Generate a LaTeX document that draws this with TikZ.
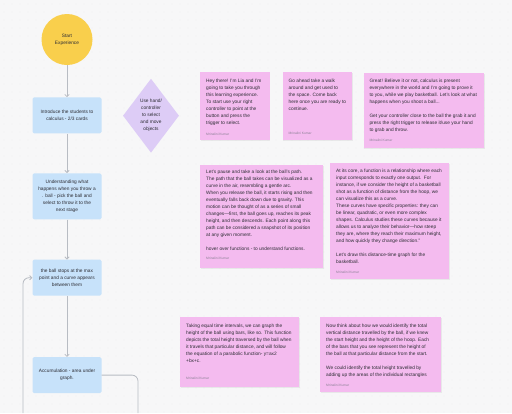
\documentclass[tikz,border=0pt]{standalone}
\usepackage{fontspec}
\setmainfont{Liberation Sans}
\usetikzlibrary{positioning,shapes.geometric,arrows.meta,shadows}

\definecolor{boardbg}{RGB}{247,247,248}
\definecolor{boarddot}{RGB}{226,226,230}
\definecolor{startyellow}{RGB}{249,207,76}
\definecolor{stepblue}{RGB}{199,226,250}
\definecolor{choicepurple}{RGB}{221,204,246}
\definecolor{notepink}{RGB}{244,187,239}
\definecolor{linkgray}{RGB}{184,188,195}
\definecolor{inkgray}{RGB}{45,45,52}
\definecolor{namegray}{RGB}{140,130,150}

\begin{document}
\begin{tikzpicture}[
    x=1pt, y=-1pt,
    every node/.style={font=\fontsize{4.8}{7}\selectfont, text=inkgray},
    startnode/.style={circle, fill=startyellow, minimum size=51pt, inner sep=0pt, align=center},
    flowbox/.style={rectangle, rounded corners=1.5pt, fill=stepblue, minimum width=69pt, minimum height=36pt, inner sep=0pt, align=center},
    choice/.style={diamond, fill=choicepurple, minimum width=56pt, minimum height=74pt, inner sep=0pt},
    note/.style={rectangle, fill=notepink, anchor=north west, inner sep=0pt,
        drop shadow={opacity=0.12, shadow xshift=0.6pt, shadow yshift=-1.2pt}},
    notetext/.style={anchor=north west, align=left, inner sep=0pt},
    author/.style={anchor=west, inner sep=0pt, font=\fontsize{3.3}{4}\selectfont, text=namegray},
    link/.style={draw=linkgray, line width=0.8pt, -{Straight Barb[length=2.2pt, width=4.4pt]}}
]
% Board background
\fill[boardbg] (0,0) rectangle (512,413);
\foreach \i in {0,...,63}
  \foreach \j in {0,...,51}
    \fill[boarddot] (\i*8+4,\j*8+4) circle (0.35);
\useasboundingbox (0,0) rectangle (512,413);

% Main flow
\node[startnode] (start) at (67,39.5) {Start\\Experience};
\node[flowbox, below=32pt of start] (intro) {Introduce the students to\\calculus - 2/3 cards};
\node[flowbox, minimum height=46pt, below=39.5pt of intro] (throw) {Understanding what\\happens when you throw a\\. ball - pick the ball and\\select to throw it to the\\next stage};
\node[flowbox, below=40pt of throw] (maxpoint) {the ball stops at the max\\point and a curve appears\\between them};
\node[flowbox, below=61pt of maxpoint] (accum) {Accumulation - area under\\graph.};

% Interaction hint
\node[choice] (select) at (151,115.7) {};
\node[align=center] at (select.center) {Use hand/\\controller\\to select\\and move\\objects};

% Flow arrows
\draw[link] (start) -- (intro);
\draw[link] (intro) -- (throw);
\draw[link] (throw) -- (maxpoint);
\draw[link] (maxpoint) -- (accum);

% Loop back and exit
\coordinate (loopin) at (23,413);
\coordinate (accout) at (138,413);
\draw[link, rounded corners=6pt] (loopin) |- (maxpoint.west);
\draw[link, -, rounded corners=6pt] (accum.east) -| (accout);

% Sticky notes: top row
\node[note, minimum width=69.5pt, minimum height=68pt] (hello) at (200,72) {};
\node[notetext] at ([shift={(6,6.5)}]hello.north west) {Hey there! I'm Lia and I'm\\going to take you through\\this learning experience.\\To start use your right\\controller to point at the\\button and press the\\trigger to select.};
\node[author] at ([shift={(6,-6.5)}]hello.south west) {Mrinalini Kumar};

\node[note, minimum width=69.5pt, minimum height=68pt] (walk) at (282.5,72) {};
\node[notetext] at ([shift={(6,6.5)}]walk.north west) {Go ahead take a walk\\around and get used to\\the space. Come back\\here once you are ready to\\continue.};
\node[author] at ([shift={(6,-7.5)}]walk.south west) {Mrinalini Kumar};

\node[note, minimum width=120.7pt, minimum height=75.7pt] (great) at (363.3,72.3) {};
\node[notetext] at ([shift={(6,6.5)}]great.north west) {Great! Believe it or not, calculus is present\\everywhere in the world and I'm going to prove it\\to you, while we play basketball. Let's look at what\\happens when you shoot a ball...\\[7pt]Get your controller close to the ball the grab it and\\press the right trigger to release it/use your hand\\to grab and throw.};
\node[author] at ([shift={(6,-8)}]great.south west) {Mrinalini Kumar};

% Sticky notes: middle row
\node[note, minimum width=123pt, minimum height=102.5pt] (path) at (200,165) {};
\node[notetext] at ([shift={(6,4.5)}]path.north west) {Let's pause and take a look at the ball's path.\\The path that the ball takes can be visualized as a\\curve in the air, resembling a gentle arc.\\When you release the ball, it starts rising and then\\eventually falls back down due to gravity. This\\motion can be thought of as a series of small\\changes—first, the ball goes up, reaches its peak\\height, and then descends. Each point along this\\path can be considered a snapshot of its position\\at any given moment.\\[7pt]hover over functions - to understand functions.};
\node[author] at ([shift={(6,-9.5)}]path.south west) {Mrinalini Kumar};

\node[note, minimum width=119pt, minimum height=116pt] (function) at (330,163) {};
\node[notetext] at ([shift={(6,6)}]function.north west) {At its core, a function is a relationship where each\\input corresponds to exactly one output.\ \ For\\instance, if we consider the height of a basketball\\shot as a function of distance from the hoop, we\\can visualize this as a curve.\\These curves have specific properties: they can\\be linear, quadratic, or even more complex\\shapes. Calculus studies these curves because it\\allows us to analyze their behavior—how steep\\they are, where they reach their maximum height,\\and how quickly they change direction."\\[7pt]Let's draw this distance-time graph for the\\basketball.};
\node[author] at ([shift={(6,-7)}]function.south west) {Mrinalini Kumar};

% Sticky notes: bottom row
\node[note, minimum width=119pt, minimum height=70pt] (bars) at (180,317) {};
\node[notetext] at ([shift={(6,6.5)}]bars.north west) {Taking equal time intervals, we can graph the\\height of the ball using bars, like so. This function\\depicts the total height traversed by the ball when\\it travels that particular distance, and will follow\\the equation of a parabolic function- y=ax2\\+bx+c.};
\node[author] at ([shift={(6,-9)}]bars.south west) {Mrinalini Kumar};

\node[note, minimum width=121pt, minimum height=75pt] (area) at (320,317) {};
\node[notetext] at ([shift={(6,6.5)}]area.north west) {Now think about how we would identify the total\\vertical distance travelled by the ball, if we knew\\the start height and the height of the hoop. Each\\of the bars that you see represent the height of\\the ball at that particular distance from the start.\\[7pt]We could identify the total height travelled by\\adding up the areas of the individual rectangles};
\node[author] at ([shift={(6,-7)}]area.south west) {Mrinalini Kumar};
\end{tikzpicture}
\end{document}
